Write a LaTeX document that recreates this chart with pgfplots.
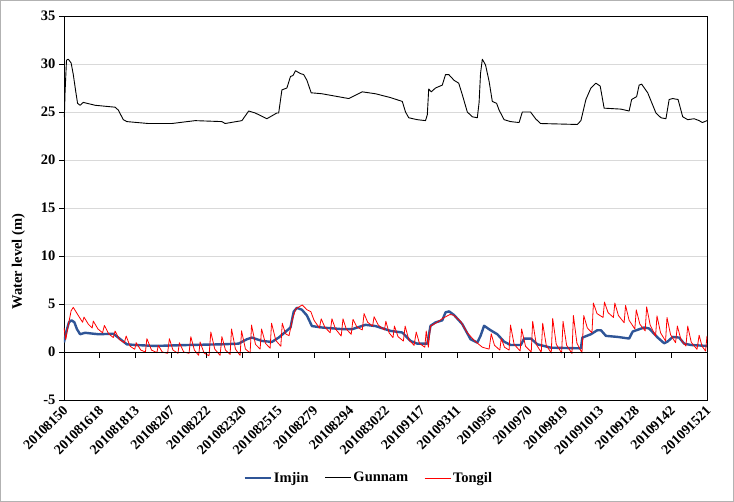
\documentclass[border=0pt]{standalone}
\usepackage{pgfplots}
\pgfplotsset{compat=1.18}
\usepackage{pgfplotstable}
\usepackage{fontspec}
\setmainfont{Liberation Serif}
\definecolor{imjin}{RGB}{47,85,151}
\definecolor{gridc}{RGB}{217,217,217}

\pgfplotstableread{
x y
0 24.5
0.01 24.5
0.03 27.1
0.07 30.4
0.12 30.5
0.2 30.1
0.26 28.9
0.33 27.1
0.38 25.9
0.45 25.7
0.54 26.0
0.87 25.7
1.43 25.5
1.52 25.2
1.66 24.2
1.76 24.0
2.36 23.8
3.02 23.8
3.67 24.1
4.42 24.0
4.51 23.8
4.98 24.1
5.17 25.1
5.35 24.9
5.68 24.3
5.96 24.9
6.01 24.9
6.1 27.3
6.24 27.5
6.34 28.7
6.41 28.8
6.48 29.3
6.62 29.0
6.71 28.9
6.80 28.3
6.92 27.0
7.22 26.9
7.97 26.4
8.35 27.1
8.72 26.9
9.14 26.5
9.47 26.1
9.56 25.0
9.65 24.4
9.89 24.2
10.12 24.1
10.17 24.7
10.21 27.4
10.28 27.1
10.40 27.5
10.59 27.8
10.68 28.9
10.77 28.9
10.92 28.3
11.05 28.0
11.15 26.8
11.29 25.0
11.43 24.5
11.57 24.4
11.62 26.0
11.66 29.0
11.71 30.5
11.80 29.9
11.90 28.2
11.99 26.1
12.11 25.9
12.18 25.2
12.32 24.2
12.50 24.0
12.74 23.9
12.83 25.0
13.06 25.0
13.20 24.3
13.34 23.8
14.37 23.7
14.47 24.1
14.61 26.3
14.75 27.5
14.89 28.0
15.01 27.7
15.12 25.4
15.59 25.3
15.82 25.1
15.89 26.3
16.03 26.6
16.10 27.8
16.17 27.9
16.34 27.0
16.57 24.9
16.71 24.4
16.85 24.3
16.94 26.3
17.04 26.4
17.19 26.3
17.32 24.5
17.46 24.2
17.64 24.3
17.78 24.1
17.87 23.9
18.0 24.1
}\gunnam

\pgfplotstableread{
x y
0 1.0
0.07 2.2
0.14 3.1
0.21 3.3
0.29 3.1
0.36 2.4
0.45 1.85
0.59 2.0
0.96 1.85
1.38 1.9
1.52 1.5
1.76 0.8
1.99 0.73
2.55 0.63
3.49 0.73
4.42 0.8
4.89 0.87
5.12 1.33
5.26 1.5
5.54 1.15
5.82 1.05
6.01 1.5
6.20 2.1
6.34 2.55
6.43 4.2
6.52 4.6
6.66 4.4
6.80 3.8
6.94 2.7
7.22 2.55
7.79 2.38
8.07 2.38
8.44 2.83
8.72 2.7
9.14 2.2
9.47 2.03
9.70 1.15
9.89 0.87
10.17 0.87
10.26 2.73
10.40 3.08
10.59 3.3
10.68 4.13
10.78 4.23
10.92 3.85
11.15 2.9
11.38 1.33
11.57 0.98
11.66 1.68
11.76 2.73
11.94 2.27
12.13 1.85
12.32 1.08
12.50 0.73
12.79 0.73
12.88 1.4
13.07 1.4
13.25 0.8
13.63 0.45
14.47 0.38
14.51 1.5
14.75 1.85
14.93 2.27
15.03 2.27
15.17 1.68
15.50 1.57
15.82 1.4
15.92 2.13
16.24 2.55
16.38 2.45
16.62 1.5
16.80 0.91
16.90 1.1
17.04 1.57
17.22 1.5
17.36 0.87
17.55 0.73
18.0 0.63
}\imjin

\pgfplotstableread{
x y
0 2.5
0.05 1.3
0.12 2.8
0.2 4.3
0.26 4.65
0.4 3.8
0.52 3.1
0.56 3.64
0.68 2.9
0.79 2.5
0.82 3.22
0.95 2.4
1.08 2.0
1.13 2.77
1.25 1.9
1.38 1.5
1.43 2.18
1.55 1.3
1.69 0.97
1.74 1.66
1.85 0.6
1.98 0.28
2.02 0.97
2.15 0.2
2.28 0.0
2.32 1.39
2.45 0.2
2.6 -0.07
2.64 0.69
2.75 0.0
2.9 -0.14
2.95 1.39
3.05 0.2
3.19 -0.14
3.23 0.97
3.35 0.0
3.5 -0.14
3.55 1.59
3.65 0.2
3.77 -0.35
3.81 1.04
3.92 -0.1
4.06 -0.4
4.11 2.08
4.22 0.3
4.37 -0.35
4.42 1.6
4.52 0.2
4.65 -0.25
4.69 2.4
4.8 0.3
4.93 -0.35
4.97 2.2
5.08 0.3
5.21 -0.1
5.25 2.8
5.36 0.8
5.49 0.3
5.53 2.4
5.64 0.9
5.77 0.4
5.81 3.0
5.93 1.2
6.07 0.6
6.11 3.0
6.2 1.9
6.3 1.7
6.4 3.5
6.49 4.5
6.67 4.9
6.8 4.4
6.91 4.2
7.0 3.3
7.15 2.5
7.2 3.46
7.3 2.6
7.45 2.0
7.5 3.46
7.6 2.4
7.76 1.66
7.81 3.46
7.9 2.4
8.04 1.84
8.09 3.4
8.2 2.6
8.35 2.3
8.40 4.0
8.5 3.1
8.64 2.7
8.68 3.67
8.8 2.8
8.97 2.3
9.01 3.2
9.1 2.0
9.21 1.5
9.25 2.7
9.35 1.6
9.5 1.14
9.55 2.7
9.65 1.3
9.8 0.69
9.86 2.08
9.95 0.9
10.1 0.5
10.14 2.18
10.2 0.5
10.26 2.7
10.45 3.1
10.6 3.5
10.8 3.9
10.9 3.85
11.1 3.2
11.29 2.0
11.5 1.15
11.71 0.5
11.9 0.3
11.96 1.9
12.05 0.7
12.2 0.2
12.24 1.4
12.33 0.5
12.46 0.2
12.5 2.8
12.6 0.8
12.77 0.1
12.81 2.4
12.92 0.6
13.08 0.0
13.12 3.2
13.22 0.8
13.36 -0.05
13.4 3.0
13.5 0.7
13.64 -0.1
13.68 3.5
13.78 0.8
13.93 -0.1
13.97 3.2
14.07 0.7
14.22 -0.15
14.26 3.8
14.36 0.9
14.5 -0.1
14.55 3.8
14.65 2.5
14.78 2.0
14.82 5.1
14.92 4.0
15.09 3.6
15.13 5.2
15.23 4.1
15.38 3.6
15.42 5.1
15.52 3.8
15.68 3.05
15.72 4.85
15.82 3.3
15.98 2.4
16.02 4.4
16.12 2.9
16.27 2.2
16.31 4.7
16.41 2.8
16.56 1.66
16.6 3.76
16.7 2.0
16.84 1.14
16.88 3.6
16.98 1.8
17.12 0.97
17.17 2.7
17.27 1.3
17.41 0.62
17.46 2.7
17.56 1.0
17.72 0.28
17.78 1.75
17.86 0.6
17.96 0.1
18.0 1.68
}\tongil

\begin{document}
\begin{tikzpicture}
\useasboundingbox (0,0) rectangle (734pt,502pt);
\draw[gray!60, line width=0.8pt] (0.6pt,0.6pt) rectangle (733.4pt,501.4pt);
\begin{axis}[
  at={(64pt,102pt)}, anchor=south west,
  scale only axis, width=643pt, height=384pt,
  xmin=0, xmax=18, ymin=-5, ymax=35,
  axis line style={black, line width=0.8pt},
  xtick={0,...,18},
  xticklabels={20108150,201081618,201081813,20108207,20108222,201082320,201082515,20108279,20108294,201083022,20109117,20109311,2010956,2010970,20109819,201091013,20109128,20109142,201091521},
  xtick style={draw=none},
  xticklabel style={rotate=45, anchor=east, font=\fontsize{14}{16}\selectfont\bfseries, inner sep=1pt, yshift=-3pt},
  ytick={-5,0,...,35},
  yticklabels={-5,0,5,10,15,20,25,30,35},
  ytick pos=left,
  yticklabel style={font=\fontsize{14.5}{17}\selectfont\bfseries},
  ytick style={black, line width=0.8pt},
  tick align=outside, major tick length=5pt,
  ymajorgrids, major grid style={gridc, line width=0.8pt},
  ylabel={Water level (m)},
  ylabel style={font=\fontsize{14.5}{17}\selectfont\bfseries, at={(axis description cs:-0.071,0.36)}, anchor=center, rotate=0},
  legend style={at={(axis description cs:0.474,-0.203)}, anchor=center, draw=none, fill=none,
    font=\fontsize{14.5}{17}\selectfont\bfseries,
    /tikz/every even column/.append style={column sep=14pt}},
  legend columns=3,
  legend image code/.code={\draw[#1] (0pt,0pt) -- (26pt,0pt);},
  clip=true,
]
\addplot[imjin, line width=2.4pt, line join=round] table {\imjin};
\addlegendentry{Imjin}
\addplot[black, line width=0.9pt, line join=round] table {\gunnam};
\addlegendentry{Gunnam}
\addplot[red, line width=0.8pt, line join=round] table {\tongil};
\addlegendentry{Tongil}
\end{axis}
\begin{axis}[
  at={(64pt,102pt)}, anchor=south west,
  scale only axis, width=643pt, height=384pt,
  xmin=0, xmax=18, ymin=-5, ymax=35,
  axis x line=middle, axis y line=none,
  axis line style={-, black, line width=0.8pt},
  xtick={0,...,18}, xticklabels={}, ytick=\empty,
  xticklabel style={text opacity=0},
  major tick length=6pt,
  xtick style={black, line width=0.8pt, yshift=-3pt},
]
\end{axis}
\end{tikzpicture}
\end{document}
